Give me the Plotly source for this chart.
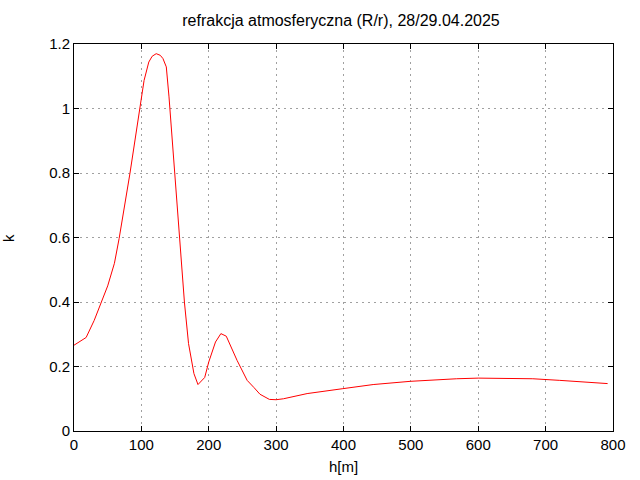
import plotly.graph_objects as go

h = [0, 5, 18, 30, 40, 50, 60, 67, 83, 97, 104, 111, 116, 122, 128, 132, 137, 141,
     150, 156, 164, 170, 178, 184, 194, 200, 210, 218, 226, 242, 257, 267, 276, 290,
     300, 311, 346, 398, 444, 499, 543, 568, 600, 650, 681, 721, 746, 770, 792]
k = [0.266, 0.272, 0.29, 0.343, 0.397, 0.45, 0.52, 0.597, 0.798, 0.994, 1.087, 1.144,
     1.162, 1.170, 1.165, 1.155, 1.129, 1.036, 0.788, 0.597, 0.397, 0.271, 0.178, 0.144,
     0.166, 0.214, 0.276, 0.302, 0.294, 0.219, 0.157, 0.135, 0.114, 0.098, 0.097, 0.100,
     0.116, 0.131, 0.144, 0.154, 0.160, 0.162, 0.164, 0.164, 0.162, 0.157, 0.153, 0.150, 0.147]

title = "refrakcja atmosferyczna (R/r), 28/29.04.2025"
x_title = "h[m]"
y_title = "k"

FONT = "Liberation Sans"
FS = 15

fig = go.Figure(go.Scatter(x=h, y=k, mode="lines",
                           line=dict(color="#ff0000", width=1), showlegend=False))

axis_common = dict(showline=True, linecolor="black", linewidth=1, mirror="allticks",
                   ticks="inside", ticklen=5, tickcolor="black", tickwidth=1,
                   showgrid=True, gridcolor="#a0a0a0", gridwidth=1, griddash="2px,4px",
                   zeroline=False, tickfont=dict(family=FONT, size=FS, color="black"))

fig.update_xaxes(range=[0, 800], dtick=100, tick0=0, **axis_common)
fig.update_yaxes(range=[0, 1.2], dtick=0.2, tick0=0, **axis_common)

W, H = 640, 480
L, R, T, B = 74, 27, 44, 49

fig.update_layout(
    width=W, height=H,
    margin=dict(l=L, r=R, t=T, b=B),
    paper_bgcolor="white", plot_bgcolor="white",
    title=dict(text=title, x=341 / W, xanchor="center", y=1 - 20 / H, yanchor="middle",
               font=dict(family=FONT, size=16, color="black")),
    annotations=[
        dict(text=x_title, xref="paper", yref="paper",
             x=(343 - L) / (W - L - R), y=-(466 - (H - B)) / (H - T - B),
             xanchor="center", yanchor="middle", showarrow=False,
             font=dict(family=FONT, size=FS, color="black")),
        dict(text=y_title, xref="paper", yref="paper", textangle=-90,
             x=-(L - 9) / (W - L - R), y=(H - B - 238) / (H - T - B),
             xanchor="center", yanchor="middle", showarrow=False,
             font=dict(family=FONT, size=FS, color="black")),
    ],
)

fig.write_html("out.html", config={"displayModeBar": False},
               post_script="document.body.style.margin='0';document.body.style.overflow='hidden';")
